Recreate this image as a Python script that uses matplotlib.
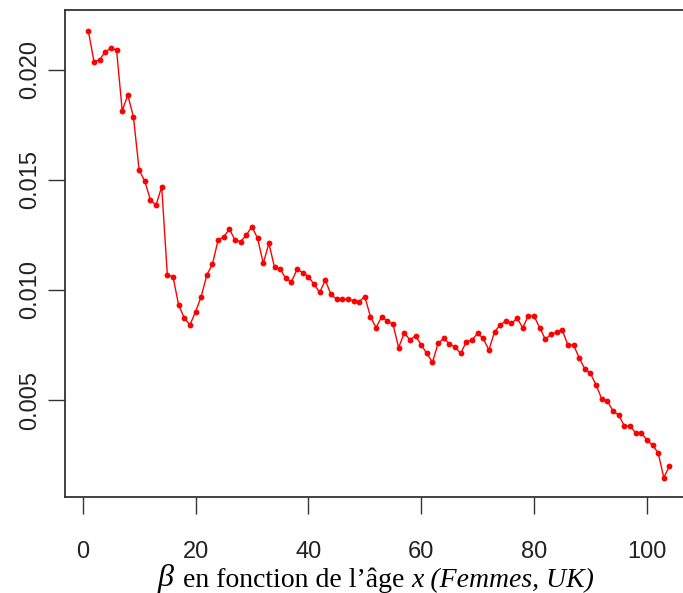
import matplotlib
matplotlib.use("Agg")
import matplotlib.pyplot as plt

# ages 1..104 and beta(x)
ages = list(range(1, 105))
beta = [
    0.02177, 0.02038, 0.02047, 0.02083, 0.02099, 0.02091, 0.01815, 0.01886, 0.01785, 0.01545,
    0.01495, 0.01409, 0.01386, 0.01470, 0.01068, 0.01061, 0.00932, 0.00873, 0.00841, 0.00901,
    0.00970, 0.01068, 0.01118, 0.01227, 0.01242, 0.01277, 0.01227, 0.01220, 0.01250, 0.01288,
    0.01235, 0.01121, 0.01212, 0.01103, 0.01094, 0.01053, 0.01038, 0.01094, 0.01079, 0.01061,
    0.01027, 0.00989, 0.01045, 0.00980, 0.00958, 0.00958, 0.00958, 0.00952, 0.00947, 0.00970,
    0.00879, 0.00829, 0.00879, 0.00860, 0.00844, 0.00738, 0.00806, 0.00773, 0.00792, 0.00750,
    0.00712, 0.00671, 0.00758, 0.00780, 0.00755, 0.00740, 0.00712, 0.00765, 0.00773, 0.00803,
    0.00780, 0.00727, 0.00810, 0.00841, 0.00860, 0.00848, 0.00871, 0.00829, 0.00883, 0.00881,
    0.00829, 0.00776, 0.00799, 0.00808, 0.00818, 0.00750, 0.00750, 0.00692, 0.00641, 0.00621,
    0.00568, 0.00505, 0.00495, 0.00450, 0.00432, 0.00382, 0.00382, 0.00351, 0.00351, 0.00318,
    0.00295, 0.00260, 0.00147, 0.00200,
]
xticks = [0, 20, 40, 60, 80, 100]
yticks = [0.005, 0.010, 0.015, 0.020]
ytick_labels = ["0.005", "0.010", "0.015", "0.020"]

W, H = 683, 593
fig = plt.figure(figsize=(W / 100, H / 100), dpi=100)
# plot frame runs past the right edge, as in the (cropped) reference
ax = fig.add_axes([65 / W, 1 - 497 / H, (692 - 65) / W, (497 - 10) / H])

ax.plot(ages, beta, color="#ff0000", lw=1.0, marker="o", ms=4.2, mew=0, zorder=3)

ax.set_xlim(-3.14, 108.0)
ax.set_ylim(0.000591, 0.022727)

ax.set_xticks(xticks)
ax.set_xticklabels([str(t) for t in xticks])
ax.set_yticks(yticks)
ax.set_yticklabels(ytick_labels, rotation=90, va="center")

for s in ax.spines.values():
    s.set_color("#333333")
    s.set_linewidth(1.3)

ax.tick_params(axis="both", direction="out", length=12, width=1.0, color="#333333",
               labelcolor="#222222")
ax.tick_params(axis="x", pad=20)
ax.tick_params(axis="y", pad=5)
for lab in ax.get_xticklabels() + ax.get_yticklabels():
    lab.set_fontfamily("Liberation Sans")
    lab.set_fontsize(17)

# caption: beta, plain text, italic part
fig.canvas.draw()
renderer = fig.canvas.get_renderer()
xpos = 158
parts = [
    ("\u03b2", dict(fontsize=23, style="italic"), 586, 9),
    ("en fonction de l\u2019\u00e2ge ", dict(fontsize=20), 587, 0),
    ("x (Femmes, UK)", dict(fontsize=20, style="italic"), 587, 0),
]
for txt, kw, base, gap in parts:
    t = fig.text(xpos / W, 1 - base / H, txt, family="Liberation Serif", va="baseline",
                 ha="left", color="black", **kw)
    bb = t.get_window_extent(renderer=renderer)
    xpos = bb.x1 + gap

fig.savefig("out.png", dpi=100)
